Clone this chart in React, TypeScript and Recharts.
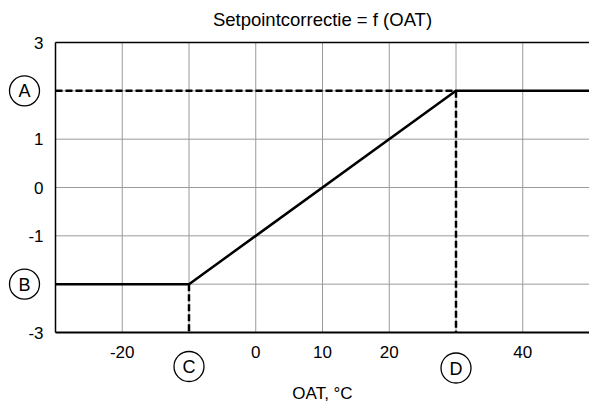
import React from "react";
import { ComposedChart, Line, XAxis, YAxis, CartesianGrid, ReferenceLine } from "recharts";

const xTicks = [-30, -20, -10, 0, 10, 20, 30, 40, 50];
const yTicks = [-3, -2, -1, 0, 1, 2, 3];
const xLabels: Record<number, string> = { [-20]: "-20", 0: "0", 10: "10", 20: "20", 40: "40" };
const xCircles: Record<number, string> = { [-10]: "C", 30: "D" };
const yLabels: Record<number, string> = { 3: "3", 1: "1", 0: "0", [-1]: "-1", [-3]: "-3" };
const yCircles: Record<number, string> = { 2: "A", [-2]: "B" };

const mainLine = [
  { x: -30, y: -2 },
  { x: -10, y: -2 },
  { x: 30, y: 2 },
  { x: 50, y: 2 },
];
const dashA = [
  { x: -30, y: 2 },
  { x: 30, y: 2 },
];
const dashC = [
  { x: -10, y: -2 },
  { x: -10, y: -3 },
];
const dashD = [
  { x: 30, y: 2 },
  { x: 30, y: -3 },
];

const FONT = "'Liberation Sans', Arial, Helvetica, sans-serif";

const XTick = (props: any) => {
  const { x, y, payload } = props;
  const v = payload.value;
  if (xCircles[v] !== undefined) {
    const cy = v === 30 ? y + 35.5 : y + 34;
    return (
      <g>
        <circle cx={x} cy={cy} r={15} fill="#fff" stroke="#000" strokeWidth={1.3} />
        <text x={x} y={cy + 6.5} textAnchor="middle" fontSize={18} fontFamily={FONT} fill="#000">
          {xCircles[v]}
        </text>
      </g>
    );
  }
  if (xLabels[v] === undefined) return null;
  return (
    <text x={x} y={y + 25} textAnchor="middle" fontSize={17} fontFamily={FONT} fill="#000">
      {xLabels[v]}
    </text>
  );
};

const YTick = (props: any) => {
  const { x, y, payload } = props;
  const v = payload.value;
  if (yCircles[v] !== undefined) {
    return (
      <g>
        <circle cx={x - 31} cy={y} r={15} fill="#fff" stroke="#000" strokeWidth={1.3} />
        <text x={x - 31} y={y + 6.5} textAnchor="middle" fontSize={18} fontFamily={FONT} fill="#000">
          {yCircles[v]}
        </text>
      </g>
    );
  }
  if (yLabels[v] === undefined) return null;
  return (
    <text x={x - 12} y={y + 6} textAnchor="end" fontSize={17} fontFamily={FONT} fill="#000">
      {yLabels[v]}
    </text>
  );
};

export default function App() {
  return (
    <div style={{ position: "absolute", left: 0, top: 0, width: 589, height: 405, background: "#fff", overflow: "hidden" }}>
      <div
        style={{
          position: "absolute",
          left: 0,
          width: 645,
          top: 9,
          textAlign: "center",
          fontFamily: FONT,
          fontSize: 18.5,
          color: "#000",
        }}
      >
        Setpointcorrectie = f (OAT)
      </div>
      <div
        style={{
          position: "absolute",
          left: 0,
          width: 645,
          top: 384,
          textAlign: "center",
          fontFamily: FONT,
          fontSize: 17,
          color: "#000",
        }}
      >
        OAT, °C
      </div>
      <div style={{ position: "absolute", left: 0, top: 0 }}>
        <ComposedChart width={590} height={405} margin={{ top: 42.5, right: 0.5, bottom: 0, left: 0 }}>
          <CartesianGrid stroke="#9a9a9a" strokeWidth={1} horizontal vertical />
          <XAxis
            type="number"
            dataKey="x"
            domain={[-30, 50]}
            ticks={xTicks}
            allowDataOverflow
            axisLine={{ stroke: "#000", strokeWidth: 2 }}
            tickLine={false}
            tickSize={0}
            tickMargin={0}
            tick={<XTick />}
            height={72.5}
            interval={0}
          />
          <YAxis
            type="number"
            dataKey="y"
            domain={[-3, 3]}
            ticks={yTicks}
            allowDataOverflow
            axisLine={{ stroke: "#000", strokeWidth: 1.5 }}
            tickLine={false}
            tickSize={0}
            tickMargin={0}
            tick={<YTick />}
            width={55.5}
            interval={0}
          />
          <ReferenceLine y={3} stroke="#000" strokeWidth={1.5} />
          <Line data={dashA} dataKey="y" stroke="#000" strokeWidth={2.5} strokeDasharray="7 3" dot={false} isAnimationActive={false} />
          <Line data={dashC} dataKey="y" stroke="#000" strokeWidth={2.5} strokeDasharray="7 3" dot={false} isAnimationActive={false} />
          <Line data={dashD} dataKey="y" stroke="#000" strokeWidth={2.5} strokeDasharray="7 3" dot={false} isAnimationActive={false} />
          <Line data={mainLine} dataKey="y" stroke="#000" strokeWidth={2.5} dot={false} isAnimationActive={false} />
        </ComposedChart>
      </div>
    </div>
  );
}
